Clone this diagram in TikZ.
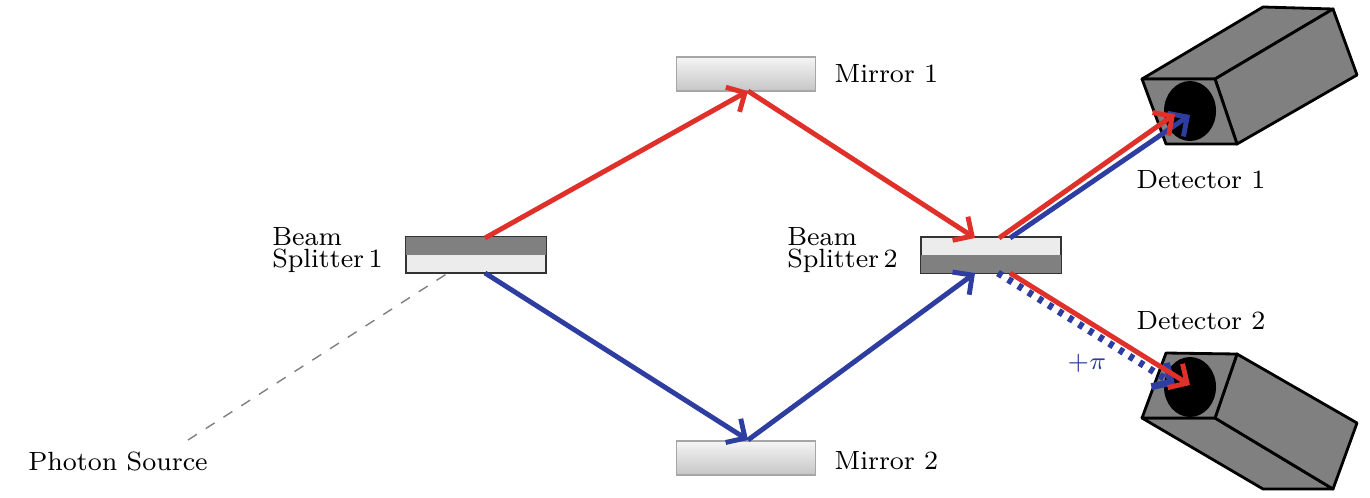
\documentclass[tikz,border=0pt]{standalone}
\usetikzlibrary{arrows.meta,positioning}
\definecolor{beamred}{HTML}{E0302A}
\definecolor{beamblue}{HTML}{2E3DA0}
\tikzset{
  every node/.style={font=\fontsize{7.5}{8}\selectfont},
  mirror/.style={draw=gray!70, top color=gray!8, bottom color=gray!45, minimum width=1.39cm, minimum height=0.34cm, inner sep=0pt},
  splitter/.style={draw=black!80, fill=gray!15, minimum width=1.4cm, minimum height=0.35cm, inner sep=0pt},
  red beam/.style={beamred, line width=1.4pt, -{Straight Barb[length=4pt,width=8pt]}},
  blue beam/.style={beamblue, line width=1.4pt, -{Straight Barb[length=4pt,width=8pt]}},
  box/.style={draw=black, fill=gray, line width=0.8pt, line join=round},
}
\begin{document}
\begin{tikzpicture}[x=0.01cm,y=-0.01cm]
	\useasboundingbox (0,0) rectangle (1370,497);
	% mirrors and splitters
	\node [mirror] (m1) at (746,74) {};
	\node [mirror] (m2) at (746,458) {};
	\node [right=0.06cm of m1] {Mirror 1};
	\node [right=0.06cm of m2, yshift=-0.03cm] {Mirror 2};
	\node [splitter] (bs1) at (476,255) {};
	\fill [gray] (bs1.north west) rectangle (bs1.east);
	\draw [black!80] (bs1.north west) rectangle (bs1.south east);
	\node [splitter] (bs2) at (991,255) {};
	\fill [gray] (bs2.west) rectangle (bs2.south east);
	\draw [black!80] (bs2.north west) rectangle (bs2.south east);
	\node [left=0.22cm of bs1, align=left, inner sep=0pt, yshift=0.05cm] (l1) {Beam\\[-2pt]Splitter\,1};
	\node [left=0.22cm of bs2, align=left, inner sep=0pt, yshift=0.05cm] (l2) {Beam\\[-2pt]Splitter\,2};
	% photon source
	\node (src) at (118,461) {Photon Source};
	\coordinate (s0) at (188,440);
	\coordinate (s1) at (448,273);
	\draw [dashed, gray, thin] (s0) -- (s1);
	% detectors
	\draw [box] (1142,79) -- (1263,7) -- (1333,9) -- (1215,79) -- cycle;
	\draw [box] (1215,79) -- (1333,9) -- (1357,75) -- (1237,144) -- cycle;
	\draw [box] (1142,79) -- (1215,79) -- (1237,144) -- (1166,144) -- cycle;
	\fill (1190,111) ellipse (26 and 30);
	\draw [box] (1142,418) -- (1215,418) -- (1333,489) -- (1263,489) -- cycle;
	\draw [box] (1237,354) -- (1357,423) -- (1333,489) -- (1215,418) -- cycle;
	\draw [box] (1166,353) -- (1237,354) -- (1215,418) -- (1142,418) -- cycle;
	\fill (1190,387) ellipse (26 and 30);
	\node (d1) at (1201,180) {Detector 1};
	\node (d2) at (1201,321) {Detector 2};
	% beams
	\coordinate (r0) at (485,238);
	\coordinate (r1) at (748,91);
	\coordinate (r2) at (975,238);
	\coordinate (b0) at (485,273);
	\coordinate (b1) at (748,440);
	\coordinate (b2) at (975,273);
	\draw [red beam] (r0) -- (r1);
	\draw [red beam] (r1) -- (r2);
	\draw [blue beam] (b0) -- (b1);
	\draw [blue beam] (b1) -- (b2);
	\draw [blue beam] (1010,238) -- (1190,115);
	\draw [red beam] (999,238) -- (1175,114);
	\draw [blue beam, dotted, line width=2pt] (998,273) -- (1175,385);
	\draw [red beam] (1010,273) -- (1190,385);
	\node [beamblue] at (1087,363) {$+\pi$};
\end{tikzpicture}
\end{document}
